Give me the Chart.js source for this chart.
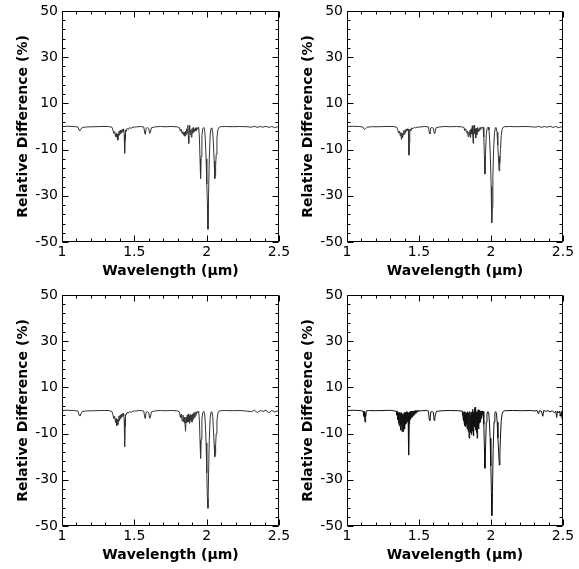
<!DOCTYPE html>
<html>
<head>
<meta charset="utf-8">
<script src="https://cdn.jsdelivr.net/npm/chart.js@4/dist/chart.umd.min.js"></script>
<style>
  html, body { margin: 0; padding: 0; background: #fff; }
  body { width: 579px; height: 569px; position: relative; overflow: hidden; }
  canvas { position: absolute; }
</style>
</head>
<body>
<canvas id="c1" width="290" height="285" style="left:0px;top:0px;"></canvas>
<canvas id="c2" width="289" height="285" style="left:285px;top:0px;"></canvas>
<canvas id="c3" width="290" height="285" style="left:0px;top:284px;"></canvas>
<canvas id="c4" width="289" height="285" style="left:285px;top:284px;"></canvas>
<script>
// ---- tick labels ----
const xTickValues = [1, 1.5, 2, 2.5];
const yTickValues = [-50, -30, -10, 10, 30, 50];
const xTitle = 'Wavelength (μm)';
const yTitle = 'Relative Difference (%)';

// ---- shared wavelength grid for panels 1-3 (μm) ----
const wavelength = [
  1.000,1.040,1.080,1.110,1.118,1.124,1.130,1.140,1.170,1.220,
  1.270,1.320,1.345,1.352,1.358,1.364,1.370,1.374,1.378,1.382,
  1.386,1.390,1.394,1.398,1.402,1.406,1.410,1.414,1.418,1.422,
  1.426,1.430,1.433,1.436,1.439,1.443,1.450,1.458,1.466,1.476,
  1.490,1.510,1.540,1.565,1.572,1.576,1.581,1.590,1.600,1.606,
  1.611,1.618,1.640,1.680,1.720,1.760,1.800,1.812,1.818,1.824,
  1.830,1.836,1.842,1.846,1.850,1.854,1.858,1.862,1.866,1.870,
  1.873,1.876,1.879,1.882,1.886,1.890,1.894,1.898,1.902,1.906,
  1.910,1.914,1.918,1.922,1.926,1.930,1.935,1.940,1.945,1.950,
  1.954,1.958,1.962,1.967,1.973,1.980,1.986,1.991,1.996,2.001,
  2.005,2.009,2.013,2.018,2.024,2.030,2.036,2.042,2.047,2.052,
  2.056,2.059,2.062,2.066,2.071,2.077,2.085,2.095,2.130,2.180,
  2.230,2.280,2.310,2.330,2.350,2.370,2.390,2.410,2.430,2.450,
  2.470,2.490,2.500
];

// ---- panel 1 (top left) relative difference (%) ----
const diffPanel1 = [
  0.0,0.1,0.0,-0.2,-1.5,-1.7,-1.2,-0.4,-0.2,-0.1,
  0.0,0.0,-0.3,-1.5,-3.0,-2.2,-4.4,-3.0,-4.6,-3.2,
  -5.9,-3.5,-2.0,-3.8,-1.8,-3.0,-1.5,-2.5,-1.2,-2.0,
  -1.0,-3.5,-11.6,-6.0,-1.5,-2.2,-0.8,-1.3,-0.5,-0.8,
  -0.3,-0.2,0.0,-0.2,-2.8,-3.4,-0.8,-0.5,-0.9,-3.0,
  -2.5,-0.6,-0.2,0.0,-0.1,0.0,-0.2,-0.5,-2.0,-1.2,
  -3.0,-2.2,-3.8,-2.5,-4.2,-2.0,-3.5,-1.0,-2.8,0.5,
  -4.0,-7.3,-2.0,0.6,-3.5,-1.5,-4.6,-1.0,-3.0,-0.5,
  -2.5,-1.2,-2.0,-0.6,-1.8,-0.5,-1.2,-0.3,-0.5,-5.0,
  -14.0,-22.5,-13.0,-4.0,-1.0,-0.4,-1.5,-6.0,-14.0,-25.0,
  -33.0,-44.5,-30.0,-14.0,-4.0,-0.8,-0.6,-2.5,-8.0,-15.0,
  -22.5,-21.0,-17.0,-12.0,-5.0,-1.5,-0.4,-0.1,0.0,-0.1,
  0.0,-0.1,-0.3,0.1,-0.4,0.0,-0.3,0.1,-0.4,0.0,
  -0.5,-0.1,-0.3
];

// ---- panel 2 (top right) ----
const diffPanel2 = [
  0.0,0.1,0.0,-0.2,-1.1,-1.3,-0.9,-0.3,-0.1,-0.1,
  0.0,0.0,-0.3,-1.3,-2.8,-2.0,-4.0,-2.6,-5.6,-3.0,
  -4.8,-3.2,-1.8,-3.4,-1.6,-2.6,-1.2,-2.0,-1.0,-1.6,
  -1.2,-12.4,-7.0,-1.8,-1.2,-1.8,-0.6,-1.0,-0.4,-0.6,
  -0.3,-0.2,0.0,-0.2,-2.6,-3.2,-0.7,-0.4,-0.8,-3.0,
  -2.6,-0.6,-0.2,0.0,-0.1,0.0,-0.2,-0.4,-1.8,-1.0,
  -2.6,-2.0,-4.5,-2.4,-3.6,-1.5,-4.8,-1.0,-3.2,0.3,
  -3.5,-7.3,-2.2,0.5,-3.0,-1.0,-5.0,-0.8,-3.5,-0.5,
  -2.2,-1.0,-1.8,-0.5,-1.2,-0.3,-0.8,-0.2,-0.4,-4.5,
  -13.0,-20.6,-12.0,-3.5,-0.8,-0.3,-1.5,-6.0,-14.0,-26.0,
  -41.7,-35.0,-22.0,-10.0,-3.0,-0.6,-0.5,-2.5,-8.0,-14.0,
  -19.2,-13.0,-16.0,-10.0,-4.0,-1.2,-0.3,-0.1,0.0,-0.1,
  0.0,-0.1,-0.3,0.1,-0.4,0.0,-0.3,0.1,-0.4,0.0,
  -0.5,-0.1,-0.3
];

// ---- panel 3 (bottom left) ----
const diffPanel3 = [
  0.0,0.1,0.0,-0.2,-2.0,-2.4,-1.5,-0.4,-0.2,-0.1,
  0.0,0.0,-0.4,-1.8,-3.5,-2.5,-5.2,-3.5,-6.6,-4.0,
  -6.2,-3.8,-2.4,-4.5,-2.0,-3.4,-1.6,-2.8,-1.3,-2.2,
  -1.2,-4.0,-15.6,-7.0,-1.8,-2.0,-0.8,-1.2,-0.5,-0.8,
  -0.3,-0.2,0.0,-0.2,-3.0,-3.5,-0.8,-0.5,-1.0,-3.4,
  -2.8,-0.6,-0.2,0.0,-0.1,0.0,-0.2,-0.6,-3.0,-1.5,
  -4.5,-2.0,-5.0,-3.0,-5.5,-9.0,-3.0,-5.2,-2.0,-4.8,
  -1.5,-5.0,-2.5,-5.5,-1.8,-4.2,-2.0,-5.0,-1.5,-3.8,
  -1.0,-3.0,-0.8,-2.5,-0.6,-1.5,-0.5,-0.8,-0.4,-4.5,
  -13.0,-20.7,-12.5,-3.8,-0.9,-0.3,-1.5,-6.0,-14.0,-27.0,
  -38.0,-42.3,-28.0,-13.0,-3.5,-0.7,-0.6,-2.5,-8.5,-15.0,
  -20.0,-19.0,-15.0,-10.0,-4.5,-1.3,-0.3,-0.1,0.0,-0.1,
  0.0,-0.3,-0.5,0.1,-0.9,0.0,-0.4,0.1,-1.0,0.0,
  -0.6,-0.2,-0.4
];

// ---- finer wavelength grid for panel 4 (bottom right) ----
const wavelengthFine = [
  1.000,1.050,1.100,1.112,1.116,1.119,1.122,1.125,1.128,1.131,
  1.134,1.138,1.150,1.200,1.250,1.300,1.340,
  1.344,1.346,1.348,1.350,1.352,1.354,1.356,1.358,1.360,1.362,
  1.364,1.366,1.368,1.370,1.372,1.374,1.376,1.378,1.380,1.382,
  1.384,1.386,1.388,1.390,1.392,1.394,1.396,1.398,1.400,1.402,
  1.404,1.406,1.408,1.410,1.412,1.414,1.416,1.418,1.420,1.422,
  1.424,1.426,1.428,1.430,1.432,1.434,1.436,1.438,1.440,1.442,
  1.444,1.446,1.448,1.450,1.452,1.454,1.456,1.458,1.460,1.462,
  1.464,1.466,1.468,1.470,1.472,1.474,1.476,1.478,1.480,1.482,
  1.484,1.486,1.488,1.490,1.492,1.494,1.496,1.498,1.500,
  1.520,1.550,1.565,1.571,1.576,1.582,1.592,1.600,1.605,1.610,
  1.620,1.660,1.720,1.770,1.796,
  1.800,1.802,1.804,1.806,1.808,1.810,1.812,1.814,1.816,1.818,
  1.820,1.822,1.824,1.826,1.828,1.830,1.832,1.834,1.836,1.838,
  1.840,1.842,1.844,1.846,1.848,1.850,1.852,1.854,1.856,1.858,
  1.860,1.862,1.864,1.866,1.868,1.870,1.872,1.874,1.876,1.878,
  1.880,1.882,1.884,1.886,1.888,1.890,1.892,1.894,1.896,1.898,
  1.900,1.902,1.904,1.906,1.908,1.910,1.912,1.914,1.916,1.918,
  1.920,1.922,1.924,1.926,1.928,1.930,1.932,1.934,1.936,1.938,
  1.940,1.942,1.944,1.946,
  1.950,1.954,1.958,1.963,1.967,1.972,1.978,1.984,1.989,1.994,1.999,
  2.003,2.006,2.010,2.015,2.021,2.027,2.033,2.038,2.043,2.048,
  2.053,2.058,2.062,2.066,2.071,2.077,2.084,2.095,2.150,2.220,
  2.280,2.300,2.320,2.330,2.336,2.350,2.360,2.366,2.380,2.395,
  2.410,2.425,2.440,2.450,2.456,2.462,2.470,2.476,2.482,2.488,
  2.494,2.500
];

const diffPanel4 = [
  0.0,0.1,-0.1,-0.3,-2.5,-0.5,-3.0,-5.0,-1.0,-2.5,
  -0.3,-0.1,0.0,-0.1,0.0,0.1,-0.3,
  -0.3,-2.0,-0.5,-3.0,-0.8,-4.0,-1.0,-5.5,-1.5,-6.5,
  -0.8,-5.0,-2.0,-7.0,-1.0,-8.5,-2.5,-6.0,-1.0,-9.2,
  -3.0,-7.5,-1.5,-8.0,-2.0,-9.0,-1.0,-6.5,-2.5,-8.0,
  -0.8,-6.0,-1.5,-5.5,-0.5,-5.0,-1.2,-4.5,-0.6,-5.0,
  -1.0,-4.0,-2.5,-19.3,-6.0,-0.8,-4.5,-0.5,-3.8,-0.6,
  -3.5,-0.3,-3.0,-0.5,-2.8,-0.2,-2.5,-0.4,-2.2,-0.2,
  -2.0,-0.3,-1.8,-0.1,-1.5,-0.2,-1.2,0.0,-1.0,-0.2,
  -0.8,0.0,-0.6,-0.1,-0.5,0.0,-0.3,0.0,-0.2,
  -0.1,0.0,-0.2,-3.8,-4.3,-0.6,-0.5,-0.8,-4.3,-3.0,
  -0.4,-0.1,0.0,-0.1,-0.2,
  -0.3,-2.0,-0.5,-3.5,-0.8,-4.5,-1.0,-5.5,-0.5,-6.5,
  -1.5,-5.0,-0.8,-7.0,-2.0,-6.0,-1.0,-8.0,-0.5,-7.5,
  -2.0,-9.0,-1.0,-6.5,-12.0,-1.5,-8.0,-0.5,-7.5,-2.0,
  -9.5,-0.8,-10.5,-1.5,-7.0,-0.5,-9.0,0.5,-8.0,-1.0,
  -11.0,-0.5,-6.5,0.8,-7.0,1.5,-8.5,-0.3,-6.0,-1.0,
  -9.5,-0.5,-12.0,-0.8,-7.0,0.3,-6.5,-0.5,-8.0,-1.0,
  -5.5,0.2,-5.0,-0.5,-4.0,-0.3,-3.5,-0.2,-3.0,-0.5,
  -2.0,-0.2,-1.0,-0.5,
  -6.0,-16.0,-25.0,-14.0,-5.0,-1.5,-0.5,-0.8,-5.0,-12.0,-24.0,
  -36.0,-45.5,-35.0,-17.0,-5.0,-1.0,-0.5,-1.5,-5.0,-12.0,
  -18.0,-23.6,-18.0,-11.0,-4.5,-1.5,-0.5,-0.1,0.0,-0.1,
  0.0,-0.2,0.0,-1.5,-0.1,-0.3,-2.5,0.0,-0.4,0.0,
  -0.6,-0.1,-1.0,-0.2,-3.0,-0.3,-1.0,-0.2,-2.5,-0.4,
  -3.5,-1.0
];

// ---- frame + inward ticks on all four sides ----
const frameTicks = {
  id: 'frameTicks',
  afterDraw(chart) {
    const { ctx, chartArea: a, scales: { x, y } } = chart;
    ctx.save();
    ctx.strokeStyle = '#000';
    ctx.lineWidth = 1;
    const L = Math.round(a.left) + 0.5, R = Math.round(a.right) - 0.5;
    const T = Math.round(a.top) + 0.5, B = Math.round(a.bottom) - 0.5;
    ctx.beginPath();
    ctx.rect(L, T, R - L, B - T);
    for (let k = 0; k <= 15; k++) {
      const px = Math.round(x.getPixelForValue(1 + k * 0.1)) + 0.5;
      const len = (k % 5 === 0) ? 6 : 3;
      ctx.moveTo(px, B); ctx.lineTo(px, B - len);
      ctx.moveTo(px, T); ctx.lineTo(px, T + len);
    }
    for (let k = 0; k <= 25; k++) {
      const py = Math.round(y.getPixelForValue(-50 + k * 4)) + 0.5;
      const len = (k % 5 === 0) ? 6 : 3;
      ctx.moveTo(L, py); ctx.lineTo(L + len, py);
      ctx.moveTo(R, py); ctx.lineTo(R - len, py);
    }
    ctx.stroke();
    ctx.restore();
  }
};

function makeChart(id, xs, ys, color, width) {
  const pts = xs.map((v, i) => ({ x: v, y: ys[i] }));
  return new Chart(document.getElementById(id), {
    type: 'line',
    data: { datasets: [{ data: pts, borderColor: color, borderWidth: width, pointRadius: 0, tension: 0, fill: false }] },
    options: {
      responsive: false, animation: false, devicePixelRatio: 1, events: [],
      layout: { padding: { top: 11, right: 11, left: 0, bottom: 0 } },
      plugins: { legend: { display: false }, tooltip: { enabled: false }, title: { display: false } },
      scales: {
        x: {
          type: 'linear', min: 1, max: 2.5,
          afterBuildTicks: s => { s.ticks = xTickValues.map(v => ({ value: v })); },
          afterFit: s => { s.height = 43; s.paddingLeft = 0; s.paddingRight = 0; },
          ticks: { callback: v => String(v), color: '#000', font: { family: 'DejaVu Sans', size: 14 }, maxRotation: 0, autoSkip: false, padding: 2 },
          grid: { display: false, drawTicks: false, tickLength: 0 },
          border: { display: false },
          title: { display: true, text: xTitle, color: '#000', font: { family: 'DejaVu Sans', weight: 'bold', size: 14 }, padding: { top: 0, bottom: 5 } }
        },
        y: {
          type: 'linear', min: -50, max: 50,
          afterBuildTicks: s => { s.ticks = yTickValues.map(v => ({ value: v })); },
          afterFit: s => { s.width = 62; s.paddingTop = 0; s.paddingBottom = 0; },
          ticks: { callback: v => String(v), color: '#000', font: { family: 'DejaVu Sans', size: 14 }, autoSkip: false, padding: 4 },
          grid: { display: false, drawTicks: false, tickLength: 0 },
          border: { display: false },
          title: { display: true, text: yTitle, color: '#000', font: { family: 'DejaVu Sans', weight: 'bold', size: 14 }, padding: { top: 15, bottom: 0 } }
        }
      }
    },
    plugins: [frameTicks]
  });
}

makeChart('c1', wavelength, diffPanel1, '#333', 1);
makeChart('c2', wavelength, diffPanel2, '#333', 1);
makeChart('c3', wavelength, diffPanel3, '#333', 1);
makeChart('c4', wavelengthFine, diffPanel4, '#111', 1);
</script>
</body>
</html>
